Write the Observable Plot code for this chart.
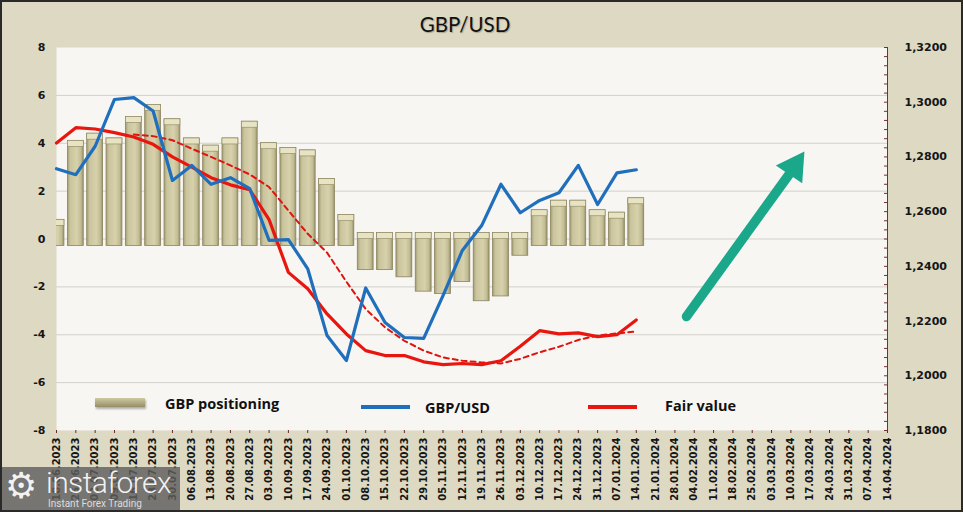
<!DOCTYPE html>
<html><head><meta charset="utf-8">
<script src="https://cdn.jsdelivr.net/npm/d3@7"></script>
<script src="https://cdn.jsdelivr.net/npm/@observablehq/plot@0.6"></script>
<style>
body{margin:0;background:#ddd9c3;}
#wrap{position:relative;width:963px;height:512px;background:#ddd9c3;overflow:hidden;}
#chart{position:absolute;left:0;top:0;}
#title{position:absolute;left:0;width:930px;top:13px;text-align:center;font:20.5px/22px Lato,sans-serif;color:#111;text-shadow:1px 1px 1px rgba(0,0,0,0.25);}
.lt{position:absolute;font:700 14.5px/19px "Open Sans",sans-serif;color:#111;white-space:nowrap;}
.sw{position:absolute;}
#border{position:absolute;left:0;top:0;width:963px;height:512px;box-sizing:border-box;border:2px solid #2a2a2a;pointer-events:none;}
#logo{position:absolute;left:0;top:467px;width:180px;height:45px;background:rgba(95,95,95,0.82);color:rgba(255,255,255,0.92);font-family:Roboto,sans-serif;}
#logo .g{position:absolute;left:5px;top:-4px;font:36px/46px "DejaVu Sans";}
#logo .n{position:absolute;left:46px;top:-2px;font:300 30px/36px Roboto;letter-spacing:-0.6px;}
#logo .s{position:absolute;left:48px;top:31px;font:10px/12px Roboto;color:rgba(255,255,255,0.75);}
</style></head>
<body>
<div id="wrap">
  <div id="chart"></div>
  <div id="title">GBP/USD</div>
  <div class="sw" style="left:95px;top:398px;width:50px;height:9px;background:linear-gradient(#cfc9a2,#948d67);box-shadow:1px 2px 2px rgba(0,0,0,0.3);"></div>
  <div class="lt" style="left:165px;top:394px;">GBP positioning</div>
  <div class="sw" style="left:361px;top:405px;width:49px;height:3.5px;background:#1f6fbd;"></div>
  <div class="lt" style="left:425px;top:398px;">GBP/USD</div>
  <div class="sw" style="left:588px;top:405px;width:49px;height:3.5px;background:#e8160f;"></div>
  <div class="lt" style="left:665px;top:396px;">Fair value</div>
  <div id="logo"><span class="g">⚙</span><span class="n">instaforex</span><span class="s">Instant Forex Trading</span></div>
  <div id="border"></div>
</div>
<script>
const dates = ["18.06.2023","25.06.2023","02.07.2023","09.07.2023","16.07.2023","23.07.2023","30.07.2023","06.08.2023","13.08.2023","20.08.2023","27.08.2023","03.09.2023","10.09.2023","17.09.2023","24.09.2023","01.10.2023","08.10.2023","15.10.2023","22.10.2023","29.10.2023","05.11.2023","12.11.2023","19.11.2023","26.11.2023","03.12.2023","10.12.2023","17.12.2023","24.12.2023","31.12.2023","07.01.2024","14.01.2024","21.01.2024","28.01.2024","04.02.2024","11.02.2024","18.02.2024","25.02.2024","03.03.2024","10.03.2024","17.03.2024","24.03.2024","31.03.2024","07.04.2024","14.04.2024"];
const positioning = [0.8,4.1,4.4,4.2,5.1,5.6,5.0,4.2,3.9,4.2,4.9,4.0,3.8,3.7,2.5,1.0,-1.3,-1.3,-1.6,-2.2,-2.3,-1.8,-2.6,-2.4,-0.7,1.2,1.6,1.6,1.2,1.1,1.7];
const gbpusd = [1.2757,1.2735,1.2839,1.3010,1.3017,1.2968,1.2714,1.2769,1.2700,1.2724,1.2684,1.2495,1.2498,1.2391,1.2147,1.2056,1.2321,1.2195,1.2140,1.2137,1.2293,1.2458,1.2549,1.2700,1.2596,1.2641,1.2669,1.2769,1.2626,1.2742,1.2753];
const fairValue = [1.2851,1.2907,1.2902,1.2889,1.2873,1.2846,1.2800,1.2763,1.2724,1.2698,1.2680,1.2571,1.2378,1.2318,1.2226,1.2153,1.2092,1.2074,1.2074,1.2051,1.2041,1.2045,1.2041,1.2055,1.2108,1.2165,1.2153,1.2157,1.2143,1.2150,1.2204];
const fairTrendStart = 4;
const fairTrend = [1.2882,1.2876,1.2861,1.2830,1.2800,1.2769,1.2736,1.2690,1.2604,1.2519,1.2450,1.2344,1.2244,1.2177,1.2128,1.2092,1.2067,1.2055,1.2049,1.2045,1.2062,1.2086,1.2106,1.2131,1.2147,1.2155,1.2162];
const leftTicks = [-8,-6,-4,-2,0,2,4,6,8];
const rightTicks = ["1,1800","1,2000","1,2200","1,2400","1,2600","1,2800","1,3000","1,3200"];
// annotation arrow (x = week index, y = left-axis units)
const arrowShaft = [{x:32.6,y:-3.24},{x:37.9,y:2.69}];
const arrowHead = [{x:38.17,y:3.02}];

// right axis: 1.25 at left 0, 0.00875 per left unit
const toLeft = v => (v - 1.25) / 0.00875;
const toRight = t => (1.25 + t * 0.00875).toFixed(4).replace(".", ",");

const rows = positioning.map((p, i) => ({i, pos: p, gbp: gbpusd[i], fair: fairValue[i]}));
const posRows = rows.filter(d => d.pos >= 0);
const negRows = rows.filter(d => d.pos < 0);
const trendRows = fairTrend.map((v, k) => ({i: k + fairTrendStart, v}));
const minor = d3.range(1.18, 1.32001, 0.02/6).map(toLeft);

const hw = 0.41;
const barStroke = "#8a845f";
const chart = Plot.plot({
  width: 963, height: 512,
  marginTop: 47, marginBottom: 82, marginLeft: 56, marginRight: 76,
  x: {domain: [0, dates.length - 1], axis: null},
  y: {domain: [-8, 8], axis: null},
  style: {background: "transparent", fontFamily: "DejaVu Sans, sans-serif", color: "#151515"},
  marks: [
    Plot.frame({fill: "#f7f6f2"}),
    Plot.gridY({ticks: leftTicks.filter(t => t > -8 && t < 8), stroke: "#d2d0ca", strokeOpacity: 1}),
    // bars
    Plot.rect(posRows, {x1: d => d.i - hw, x2: d => d.i + hw, y1: 0, y2: "pos", insetBottom: -7, fill: "url(#barGrad)", stroke: barStroke, strokeWidth: 0.8, clip: true}),
    Plot.rect(negRows, {x1: d => d.i - hw, x2: d => d.i + hw, y1: "pos", y2: 0, insetTop: -6, fill: "url(#barGrad)", stroke: barStroke, strokeWidth: 0.8, clip: true}),
    Plot.rect(posRows, {x1: d => d.i - hw, x2: d => d.i + hw, y1: "pos", y2: "pos", insetBottom: -6, fill: "#e8e3c3", stroke: barStroke, strokeWidth: 0.6, clip: true}),
    Plot.rect(negRows, {x1: d => d.i - hw, x2: d => d.i + hw, y1: 0, y2: 0, insetTop: -6, fill: "#e8e3c3", stroke: barStroke, strokeWidth: 0.6, clip: true}),
    // lines
    Plot.line(trendRows, {x: "i", y: d => toLeft(d.v), stroke: "#e0140f", strokeWidth: 2, strokeDasharray: "5,4"}),
    Plot.line(rows, {x: "i", y: d => toLeft(d.fair), stroke: "#e8160f", strokeWidth: 3.2}),
    Plot.line(rows, {x: "i", y: d => toLeft(d.gbp), stroke: "#1f6fbd", strokeWidth: 3.2}),
    // arrow
    Plot.line(arrowShaft, {x: "x", y: "y", stroke: "#1aa78a", strokeWidth: 9.5, strokeLinecap: "round"}),
    Plot.dot(arrowHead, {x: "x", y: "y", symbol: "triangle", r: 11.8, fill: "#1aa78a", rotate: 34}),
    // axes
    Plot.ruleX([dates.length - 1], {stroke: "#7a2f2f", strokeWidth: 1}),
    Plot.axisY({anchor: "right", ticks: minor, tickSize: 4, dx: -4, tickFormat: () => "", stroke: "#7a2f2f"}),
    Plot.axisY({anchor: "left", ticks: leftTicks, tickSize: 0, tickPadding: 11, tickFormat: d => String(d), fontWeight: "bold", fontSize: 11, label: null}),
    Plot.axisY({anchor: "right", ticks: leftTicks.slice(0, rightTicks.length).map((t, k) => toLeft(+rightTicks[k].replace(",", "."))), tickSize: 0, tickPadding: 17, tickFormat: toRight, fontWeight: "bold", fontSize: 11, label: null}),
    Plot.axisX({ticks: d3.range(dates.length), tickFormat: i => dates[i], tickRotate: -90, tickSize: 3, tickPadding: 4, fontWeight: "bold", fontSize: 10, stroke: "#6a2a2a", label: null})
  ]
});
d3.select(chart).insert("defs", ":first-child").html(
  '<linearGradient id="barGrad" x1="0" x2="1" y1="0" y2="0">' +
  '<stop offset="0" stop-color="#a39c75"/><stop offset="0.18" stop-color="#cbc59e"/>' +
  '<stop offset="0.6" stop-color="#d7d1ac"/><stop offset="0.85" stop-color="#c3bd95"/><stop offset="1" stop-color="#98916a"/></linearGradient>');
document.getElementById("chart").appendChild(chart);
</script>
</body></html>
